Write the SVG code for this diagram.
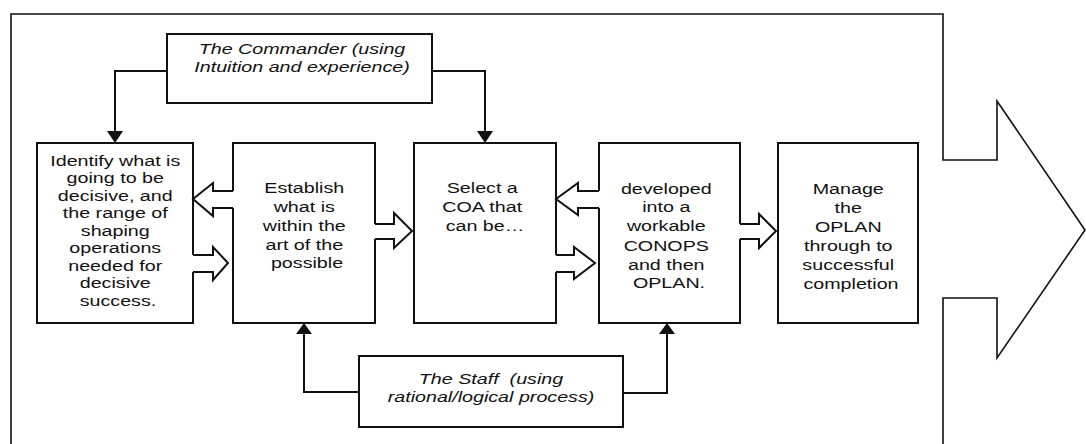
<svg xmlns="http://www.w3.org/2000/svg" width="1086" height="444" viewBox="0 0 1086 444">
  <defs>
    <style>
      .frame { fill: none; stroke: #111; stroke-width: 1.6; }
      .box { fill: #fff; stroke: #111; stroke-width: 2; }
      .wire { fill: none; stroke: #111; stroke-width: 2; }
      .head { fill: #111; stroke: none; }
      .mask { fill: #fff; stroke: none; }
      .outline { fill: none; stroke: #111; stroke-width: 2; stroke-linejoin: miter; }
      .lbl { font-family: "Liberation Sans", Arial, sans-serif; font-size: 15.5px; fill: #111; text-anchor: middle; }
      .it { font-style: italic; white-space: pre; }
    </style>
  </defs>
  <rect width="1086" height="444" fill="#fff"/>

  <!-- outer frame ending in a large block arrow -->
  <path class="frame" d="M11,444 L11,14 L943,14 L943,160 L997,160 L997,101 L1085,230 L997,358 L997,298 L943,298 L943,444"/>

  <g id="commander">
    <rect class="box" x="167" y="34" width="265" height="69"/>
    <text class="lbl it" transform="translate(302 0) scale(1.27 1)"><tspan x="0" y="54">The Commander (using</tspan><tspan x="0" y="72">Intuition and experience)</tspan></text>
  </g>

  <g id="staff">
    <rect class="box" x="359" y="356" width="264" height="71"/>
    <text class="lbl it" transform="translate(491 0) scale(1.27 1)"><tspan x="0" y="384">The Staff  (using</tspan><tspan x="0" y="402">rational/logical process)</tspan></text>
  </g>

  <g id="identify">
    <rect class="box" x="37" y="143" width="156" height="180"/>
    <text class="lbl" transform="translate(118 0) scale(1.27 1)">
      <tspan x="0" y="166">Identify what is</tspan>
      <tspan x="0" y="183.5">going to be</tspan>
      <tspan x="0" y="201">decisive, and</tspan>
      <tspan x="0" y="218.5">the range of</tspan>
      <tspan x="0" y="236">shaping</tspan>
      <tspan x="0" y="253.5">operations</tspan>
      <tspan x="0" y="271">needed for</tspan>
      <tspan x="0" y="288.5">decisive</tspan>
      <tspan x="0" y="306">success.</tspan>
    </text>
  </g>

  <g id="establish">
    <rect class="box" x="233" y="143" width="142" height="180"/>
    <text class="lbl" transform="translate(307 0) scale(1.27 1)">
      <tspan x="0" y="193">Establish</tspan>
      <tspan x="0" y="212">what is</tspan>
      <tspan x="0" y="231">within the</tspan>
      <tspan x="0" y="250">art of the</tspan>
      <tspan x="0" y="268">possible</tspan>
    </text>
  </g>

  <g id="select">
    <rect class="box" x="414" y="143" width="142" height="180"/>
    <text class="lbl" transform="translate(485 0) scale(1.27 1)">
      <tspan x="0" y="193">Select a</tspan>
      <tspan x="0" y="212">COA that</tspan>
      <tspan x="0" y="231">can be…</tspan>
    </text>
  </g>

  <g id="develop">
    <rect class="box" x="599" y="143" width="141" height="180"/>
    <text class="lbl" transform="translate(669 0) scale(1.27 1)">
      <tspan x="0" y="194">developed</tspan>
      <tspan x="0" y="212.5">into a</tspan>
      <tspan x="0" y="231.5">workable</tspan>
      <tspan x="0" y="251">CONOPS</tspan>
      <tspan x="0" y="270">and then</tspan>
      <tspan x="0" y="288.5">OPLAN.</tspan>
    </text>
  </g>

  <g id="manage">
    <rect class="box" x="778" y="143" width="140" height="180"/>
    <text class="lbl" transform="translate(851 0) scale(1.27 1)">
      <tspan x="0" y="194">Manage</tspan>
      <tspan x="0" y="213">the</tspan>
      <tspan x="0" y="232">OPLAN</tspan>
      <tspan x="0" y="251">through to</tspan>
      <tspan x="0" y="270">successful</tspan>
      <tspan x="0" y="289">completion</tspan>
    </text>
  </g>

  <g id="connectors">
    <!-- commander feeds -->
    <path class="wire" d="M167,71 L115,71 L115,131"/>
    <polygon class="head" points="107,131 123,131 115,143"/>
    <path class="wire" d="M432,71 L485,71 L485,131"/>
    <polygon class="head" points="477,131 493,131 485,143"/>
    <!-- staff feeds -->
    <path class="wire" d="M359,392 L304,392 L304,334"/>
    <polygon class="head" points="296,334 312,334 304,323"/>
    <path class="wire" d="M623,393 L667,393 L667,334"/>
    <polygon class="head" points="659,334 675,334 667,323"/>

    <!-- hollow block arrows -->
    <!-- establish -> identify -->
    <polygon class="mask" points="236,191 213,191 213,183 193,199 213,216 213,208 236,208"/>
    <polyline class="outline" points="233,191 213,191 213,183 193,199 213,216 213,208 233,208"/>
    <!-- identify -> establish -->
    <polygon class="mask" points="190,255 213,255 213,247 228,263 213,280 213,272 190,272"/>
    <polyline class="outline" points="193,255 213,255 213,247 228,263 213,280 213,272 193,272"/>
    <!-- establish -> select -->
    <polygon class="mask" points="372,224 394,224 394,213 412,231 394,248 394,239 372,239"/>
    <polyline class="outline" points="375,224 394,224 394,213 412,231 394,248 394,239 375,239"/>
    <!-- develop -> select -->
    <polygon class="mask" points="602,191 578,191 578,183 556,199 578,215 578,208 602,208"/>
    <polyline class="outline" points="599,191 578,191 578,183 556,199 578,215 578,208 599,208"/>
    <!-- select -> develop -->
    <polygon class="mask" points="553,255 574,255 574,247 595,263 574,279 574,272 553,272"/>
    <polyline class="outline" points="556,255 574,255 574,247 595,263 574,279 574,272 556,272"/>
    <!-- develop -> manage -->
    <polygon class="mask" points="737,224 759,224 759,214 776,231 759,248 759,239 737,239"/>
    <polyline class="outline" points="740,224 759,224 759,214 776,231 759,248 759,239 740,239"/>
  </g>
</svg>
